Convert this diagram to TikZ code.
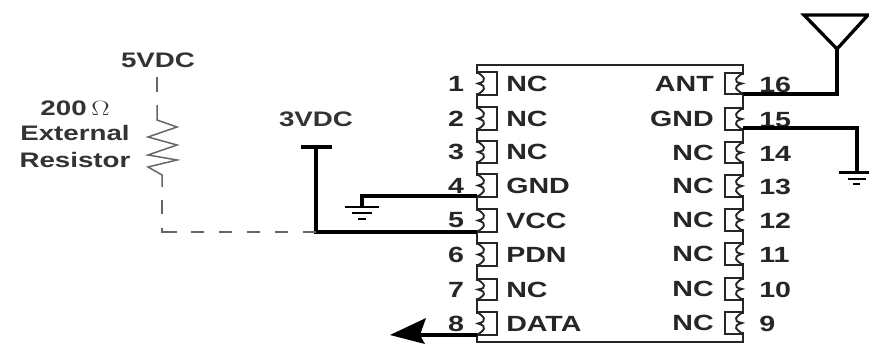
\documentclass[tikz,border=0pt]{standalone}
\usepackage{fontspec}
\setmainfont{Liberation Sans}
\tikzset{
  lbl/.style={inner sep=0pt,font=\fontsize{22}{24}\selectfont\bfseries,text=black!85,xscale=1.3},
  txt/.style={inner sep=0pt,font=\fontsize{21}{23}\selectfont\bfseries,text=black!80,xscale=1.32},
  chip/.style={line width=1.9pt,black!85},
  wire/.style={line width=3.3pt,black},
  dashline/.style={line width=1.5pt,black!60},
  gbar/.style={line width=2.4pt,black}
}
\newcommand{\lpin}[4]{% top, bottom, number, label
  \draw[white,line width=3pt] (477,{#1+2}) -- (477,{#2-2});
  \draw[chip] (477,#1) -- (497,#1) -- (497,#2) -- (477,#2);
  \draw[chip] (477,#1) .. controls (483,{#1+4}) and (489,{#1+9}) .. (478,{(#1+#2)/2}) .. controls (489,{(#1+#2)/2+3}) and (483,{#2-4}) .. (477,#2);
  \node[lbl] (ln#3) at (456,{(#1+#2)/2}) {#3};
  \node[lbl,anchor=west] (ll#3) at (506,{(#1+#2)/2}) {#4};
}
\newcommand{\rpin}[4]{%
  \draw[white,line width=3pt] (743,{#1+2}) -- (743,{#2-2});
  \draw[chip] (743,#1) -- (725,#1) -- (725,#2) -- (743,#2);
  \draw[chip] (743,#1) .. controls (737,{#1+4}) and (731,{#1+9}) .. (742,{(#1+#2)/2}) .. controls (731,{(#1+#2)/2+3}) and (737,{#2-4}) .. (743,#2);
  \node[lbl,anchor=west] (rn#3) at (759,{(#1+#2)/2+1}) {#3};
  \node[lbl,anchor=east] (rl#3) at (714,{(#1+#2)/2}) {#4};
}
\begin{document}
\begin{tikzpicture}[x=1pt,y=-1pt]
\useasboundingbox (0,0) rectangle (869,345);
\draw[chip] (477,335) -- (477,65) -- (743,65) -- (743,342) -- (477,342) -- (477,335);
\lpin{72}{95}{1}{NC}
\lpin{107}{130}{2}{NC}
\lpin{141}{163}{3}{NC}
\lpin{174}{197}{4}{GND}
\lpin{209}{232}{5}{VCC}
\lpin{243}{266}{6}{PDN}
\lpin{279}{300}{7}{NC}
\lpin{312}{335}{8}{DATA}
\rpin{73}{94}{16}{ANT}
\rpin{108}{130}{15}{GND}
\rpin{142}{163}{14}{NC}
\rpin{175}{197}{13}{NC}
\rpin{209}{231}{12}{NC}
\rpin{243}{265}{11}{NC}
\rpin{278}{300}{10}{NC}
\rpin{312}{334}{9}{NC}
% named ends
\coordinate (p4) at (477,196);
\coordinate (p5) at (477,232);
\coordinate (p8) at (477,335);
\coordinate (p16) at (743,94);
\coordinate (p15) at (743,128);
\coordinate (g1) at (362,207);
\coordinate (g2) at (857,172);
\coordinate (ant) at (837,49);
\coordinate (t3) at (316,147);
\coordinate (arr) at (420,335);
\coordinate (j) at (316,232);
% wires
\draw[wire] (p4) -- (g1 |- p4) -- (g1);
\draw[gbar] (345,207) -- (379,207);
\draw[gbar] (352,213) -- (372,213);
\draw[gbar] (358,219) -- (366,219);
\draw[wire] (p5) -- (j) -- (t3);
\draw[wire] (301,147) -- (332,147);
\draw[wire] (p15) -- (g2 |- p15) -- (g2);
\draw[gbar,line width=3pt] (839,172) -- (869,172);
\draw[gbar] (848,179) -- (866,179);
\draw[gbar] (853,184) -- (860,184);
\draw[wire] (p16) -- (ant |- p16) -- (ant);
\draw[wire,line join=miter] (804,15) -- (868,15) -- (ant) -- cycle;
\draw[wire] (p8) -- (arr);
\fill[black] (390,335) -- (426,318) -- (420,335) -- (425,344) -- cycle;
% dashed resistor branch
\coordinate (r1) at (157,105);
\coordinate (r2) at (162,187);
\draw[dashline] (157,77) -- (157,92);
\draw[dashline] (r1) -- (157,120) -- (177,127) -- (148,137) -- (177,145) -- (148,155) -- (177,160) -- (148,167) -- (162,175) -- (r2);
\draw[dashline] (162,200) -- (162,214);
\draw[dashline] (162,228) -- (162,232) -- (177,232);
\draw[dashline,dash pattern=on 13pt off 15pt] (191,232) -- (j);
% texts
\node[txt] (v5) at (158,60) {5VDC};
\node[txt] (r200) at (75,108) {200$\,\Omega$};
\node[txt] (rext) at (75,133) {External};
\node[txt] (rres) at (75,160) {Resistor};
\node[txt] (v3) at (316,119) {3VDC};
\end{tikzpicture}
\end{document}
